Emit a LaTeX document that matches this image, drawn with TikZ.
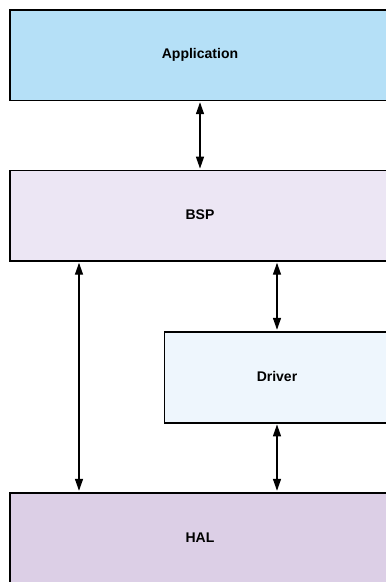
\documentclass[tikz,border=0pt]{standalone}
\usepackage{fontspec}
\setmainfont{Liberation Sans}
\usetikzlibrary{arrows.meta}
\definecolor{appfill}{HTML}{B5E0F7}
\definecolor{bspfill}{HTML}{ECE6F4}
\definecolor{drvfill}{HTML}{EEF6FD}
\definecolor{halfill}{HTML}{DCCFE6}
\tikzset{
  layer/.style={draw=black, line width=1.8pt, rectangle, inner sep=0pt, anchor=north west},
  tag/.style={font=\fontsize{14}{16}\selectfont\bfseries, inner sep=0pt},
  link/.style={line width=1.4pt, {Triangle[width=8pt,length=12pt]}-{Triangle[width=8pt,length=12pt]}, shorten <=0.9pt, shorten >=0.9pt}
}
\begin{document}
\begin{tikzpicture}[x=1pt,y=1pt]
\useasboundingbox (0,0) rectangle (386,-582);
% layer boxes (they run past the right and bottom edges)
\node[layer, fill=appfill, minimum width=400pt, minimum height=90.2pt] (app) at (9,-9.3) {};
\node[layer, fill=bspfill, minimum width=400pt, minimum height=90.5pt] (bsp) at (9,-169.5) {};
\node[layer, fill=drvfill, minimum width=250pt, minimum height=91pt] (drv) at (163.5,-330.7) {};
\node[layer, fill=halfill, minimum width=400pt, minimum height=120pt] (hal) at (9,-491.7) {};
% labels
\node[tag] (appT) at (200,-54.4) {Application};
\node[tag] (bspT) at (200,-214.8) {BSP};
\node[tag] (drvT) at (277,-376.2) {Driver};
\node[tag] (halT) at (200,-537.5) {HAL};
% anchor columns for the connectors
\coordinate (colA) at (200,0);
\coordinate (colL) at (79,0);
\coordinate (colR) at (277,0);
% connectors
\draw[link] (colA |- app.south) -- (colA |- bsp.north);
\draw[link] (colL |- bsp.south) -- (colL |- hal.north);
\draw[link] (colR |- bsp.south) -- (colR |- drv.north);
\draw[link] (colR |- drv.south) -- (colR |- hal.north);
\end{tikzpicture}
\end{document}
